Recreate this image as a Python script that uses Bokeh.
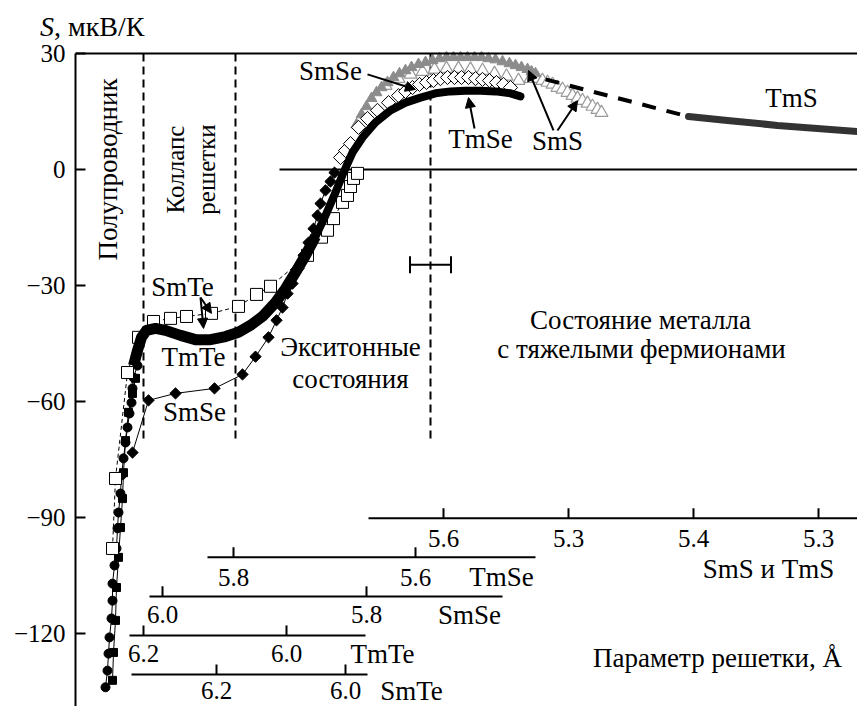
import math
from bokeh.plotting import figure
from bokeh.layouts import column
from bokeh.models import Range1d, FixedTicker, Arrow, NormalHead, Span, Div
from bokeh.core.properties import value
from bokeh.embed import file_html
from bokeh.resources import INLINE

FONT = "Liberation Serif"
FS_TICK = "25px"
FS_LAB = "27px"

# ---------------- data ----------------
# x: position along the common (scaled) lattice-parameter panel, S in мкВ/К
# steep semiconducting branch: filled circles (TmTe) and filled squares (TmSe)
tmte_pts_x = [30, 32, 33, 34, 36, 37, 37, 39, 41, 42, 43, 45, 46, 48, 50, 52, 54, 56, 57, 58, 62]
tmte_pts_s = [-133.9, -129.6, -125.2, -121.0, -116.1, -111.5, -107.1, -102.4, -98.0, -92.8, -88.7,
              -83.8, -79.1, -74.7, -70.6, -66.7, -63.1, -60.3, -56.6, -53.8, -50.7]
tmse_pts_x = [37, 38, 40, 41, 43, 45, 47, 48, 50, 53, 57, 60]
tmse_pts_s = [-132.1, -124.9, -116.6, -108.1, -100.3, -92.6, -85.1, -78.4, -70.1, -62.8, -57.9, -54.0]

# SmTe open squares
smte_x = [37, 40, 52, 63, 78, 95, 111, 136, 163, 181, 195, 232, 246, 252, 258, 267, 272, 275, 278, 282]
smte_s = [-98.0, -79.9, -52.5, -43.4, -39.3, -38.5, -38.0, -37.2, -35.4, -32.3, -30.2, -22.2, -17.5,
          -15.7, -12.7, -8.5, -6.7, -4.4, -2.3, -1.0]

# SmSe filled diamonds (below zero)
smse_lo_x = [57, 73, 100, 139, 167, 180, 193, 201, 207, 212, 217, 223, 228, 233, 238, 242, 245, 250, 255, 259]
smse_lo_s = [-73.2, -59.7, -57.9, -56.6, -53.0, -48.4, -43.4, -39.0, -35.7, -32.1, -29.5, -25.6, -22.2,
             -18.9, -15.3, -11.9, -8.8, -5.4, -3.1, -0.8]

# SmSe open diamonds (above zero)
smse_hi_x = [265, 270, 275, 283, 292, 302, 313, 323, 330, 337, 344, 351, 358, 365, 372, 379, 386,
             393, 400, 407, 414, 421, 428, 435]
smse_hi_s = [3.1, 4.9, 6.7, 10.9, 13.2, 15.3, 17.3, 19.1, 20.2, 21.2, 22.0, 22.5, 23.0, 23.5, 23.8,
             23.8, 23.8, 23.8, 23.5, 23.3, 23.0, 22.5, 22.0, 21.2]

# TmTe dense curve (thick band)
tmte_x = [58, 62, 66, 71, 80, 90, 105, 120, 135, 150, 163, 175, 187, 200, 210, 220, 230, 240]
tmte_s = [-50.7, -46.8, -43.4, -41.6, -41.1, -41.6, -42.9, -44.0, -44.0, -43.2, -42.1, -40.3, -38.0,
          -34.4, -30.8, -26.6, -22.2, -17.3]

# TmSe dense curve
tmse_x = [187, 200, 210, 220, 230, 240, 250, 260, 268, 277, 287, 300, 315, 330, 345, 360, 375, 390,
          405, 420, 435, 445]
tmse_s = [-38.0, -34.4, -30.8, -26.6, -22.2, -17.3, -11.9, -5.9, -0.8, 4.4, 8.3, 12.2, 15.3, 17.3,
          18.6, 19.7, 20.2, 20.4, 20.4, 20.2, 19.7, 18.9]

# SmS filled grey triangles
sms_f_x = [281, 286, 291, 296, 301, 306, 312, 318, 324, 330, 336, 343, 350, 357, 364, 371, 378, 385,
           392, 399, 406, 413, 420, 427, 434, 440, 446, 452, 456, 460]
sms_f_s = [11.6, 14.2, 16.3, 18.4, 19.9, 21.2, 22.5, 23.8, 24.8, 25.6, 26.4, 27.2, 27.7, 28.2, 28.7,
           29.0, 29.0, 29.0, 29.0, 29.0, 29.0, 28.7, 28.4, 27.9, 27.4, 26.9, 26.4, 25.9, 25.3, 24.8]

# SmS open grey triangles
sms_o_x = [310, 323, 335, 347, 359, 371, 383, 395, 407, 419, 431, 443, 455, 462, 467, 472, 477, 482,
           487, 492, 497, 502, 507, 512, 517, 522, 526]
sms_o_s = [21.7, 23.5, 24.6, 25.3, 25.9, 26.1, 26.1, 25.9, 25.6, 24.8, 24.1, 23.0, 23.5, 23.5, 23.0,
           22.5, 22.0, 21.2, 20.7, 19.9, 19.1, 18.4, 17.8, 17.1, 16.3, 15.5, 14.7]

# TmS: extrapolation (dashed) and measured (solid)
tms_dash_x = [470, 613]
tms_dash_s = [23.3, 13.7]
tms_x = [613, 652, 702, 782]
tms_s = [13.7, 12.7, 11.4, 9.8]

# region boundaries and error bar
bound_x = [68, 160, 355]
bound_bottom = -70.1
err_center, err_half, err_s = 355, 20.5, -24.6

# lattice-parameter scales
scale_names = ["SmS и TmS", "TmSe", "SmSe", "TmTe", "SmTe"]
scale_ticks = [["5.6", "5.3", "5.4", "5.3"], ["5.8", "5.6"], ["6.0", "5.8"], ["6.2", "6.0"], ["6.2", "6.0"]]
scale_tick_x = [[368, 493, 618, 743], [158, 340], [87, 291], [68, 211], [141, 270]]
scale_span = [(293, 782), (132, 460), (74, 427), (54, 290), (56, 292)]
scale_level = [-90.2, -100.3, -110.4, -120.5, -130.6]
scale_label_y = [-95.4, -105.5, -115.1, -125.2, -134.8]
scale_name_pos = [(693, -103.2), (426, -105.5), (394, -115.1), (307, -125.2), (336, -134.8)]

yticks = [30, 0, -30, -60, -90, -120]

# ---------------- main figure ----------------
p = figure(width=857, height=666, x_range=Range1d(0, 782), y_range=Range1d(-138.87, 30.52),
           output_backend="svg", toolbar_location=None, x_axis_location=None,
           min_border_left=75, min_border_right=0, min_border_top=11, min_border_bottom=0)
p.grid.visible = False
p.outline_line_color = None
p.background_fill_color = "white"
p.border_fill_color = "white"

ya = p.yaxis[0]
ya.ticker = FixedTicker(ticks=yticks)
ya.bounds = (-140, 30)
ya.major_label_overrides = {t: (str(t) if t >= 0 else "\u2212" + str(-t)) for t in yticks}
ya.major_tick_in = 10
ya.major_tick_out = 0
ya.minor_tick_line_color = None
ya.axis_line_width = 2
ya.major_tick_line_width = 2
ya.major_label_standoff = 10
ya.major_label_text_font = FONT
ya.major_label_text_font_size = FS_TICK
ya.major_label_text_color = "black"

p.add_layout(Span(location=30, dimension="width", line_color="black", line_width=2))

# boundaries
for bx in bound_x:
    p.line([bx, bx], [30, bound_bottom], line_color="black", line_width=2, line_dash="8 5")
p.line([204, 782], [0, 0], line_color="black", line_width=2)

# error bar
p.line([err_center - err_half, err_center + err_half], [err_s, err_s], line_color="black", line_width=2)
for ex in (err_center - err_half, err_center + err_half):
    p.line([ex, ex], [err_s - 2.2, err_s + 2.2], line_color="black", line_width=2)

# steep branch
p.line(tmte_pts_x, tmte_pts_s, line_color="black", line_width=1)
p.scatter(tmte_pts_x, tmte_pts_s, marker="circle", size=9, color="black")
p.line(tmse_pts_x, tmse_pts_s, line_color="black", line_width=1)
p.scatter(tmse_pts_x, tmse_pts_s, marker="square", size=8, color="black")

# SmS triangles
p.scatter(sms_o_x, sms_o_s, marker="triangle", size=13, fill_color="white", line_color="#9a9a9a", line_width=1.2)
p.scatter(sms_f_x, sms_f_s, marker="triangle", size=11, fill_color="#8c8c8c", line_color="#8c8c8c")

# TmS
p.line(tms_dash_x, tms_dash_s, line_color="black", line_width=4, line_dash="14 11")
p.line(tms_x, tms_s, line_color="#333333", line_width=7, line_cap="round")

# SmSe diamonds
p.line(smse_lo_x, smse_lo_s, line_color="black", line_width=1)
p.scatter(smse_lo_x, smse_lo_s, marker="square", angle=math.pi / 4, size=8, color="black")
p.scatter(smse_hi_x, smse_hi_s, marker="square", angle=math.pi / 4, size=10,
          fill_color="white", line_color="black", line_width=1)

# SmTe squares
p.line(smte_x, smte_s, line_color="black", line_width=1, line_dash="4 3")
p.scatter(smte_x, smte_s, marker="square", size=12, fill_color="white", line_color="black", line_width=1)

# dense curves
p.line(tmte_x, tmte_s, line_color="black", line_width=11, line_join="round")
p.line(tmse_x, tmse_s, line_color="black", line_width=8, line_join="round", line_cap="round")

# scales
for i in range(len(scale_names)):
    lv = scale_level[i]
    x0, x1 = scale_span[i]
    p.line([x0, x1], [lv, lv], line_color="black", line_width=2)
    for tx, tl in zip(scale_tick_x[i], scale_ticks[i]):
        p.line([tx, tx], [lv, lv + 2.6], line_color="black", line_width=2)
        p.text([tx], [scale_label_y[i]], text=[tl], text_font=value(FONT), text_font_size=FS_TICK,
               text_align="center", text_baseline="middle", text_color="black")
    nx, ny = scale_name_pos[i]
    p.text([nx], [ny], text=[scale_names[i]], text_font=value(FONT), text_font_size=FS_LAB,
           text_align="center", text_baseline="middle", text_color="black")


def txt(x, y, s, angle=0.0, size=FS_LAB):
    p.text([x], [y], text=[s], angle=angle, text_font=value(FONT), text_font_size=size,
           text_align="center", text_baseline="middle", text_color="black")


txt(32, 0, "Полупроводник", math.pi / 2, "27px")
txt(100, 0, "Коллапс", math.pi / 2, "25px")
txt(131, 0, "решетки", math.pi / 2, "25px")
txt(255, 25.6, "SmSe")
txt(405, 7.8, "TmSe")
txt(482, 7.5, "SmS")
txt(716, 18.6, "TmS")
txt(107, -30.5, "SmTe")
txt(118, -48.6, "TmTe")
txt(119, -62.8, "SmSe")
txt(275, -45.8, "Экситонные")
txt(275, -54.3, "состояния")
txt(565, -38.8, "Состояние металла")
txt(566, -46.3, "с тяжелыми фермионами")
txt(642, -126.4, "Параметр решетки, Å")

# arrows
arrows = [((292, 24.6), (340, 20.7)), ((399, 10.6), (393, 18.6)),
          ((478, 10.1), (453, 25.6)), ((482, 10.1), (502, 17.8)),
          ((125, -33.1), (136, -37.2)), ((125, -33.1), (128, -41.1))]
for (xs, ys), (xe, ye) in arrows:
    p.add_layout(Arrow(end=NormalHead(size=10, fill_color="black", line_color="black"),
                       x_start=xs, y_start=ys, x_end=xe, y_end=ye,
                       line_color="black", line_width=2))

# ---------------- header with the y-axis title ----------------
title_html = ('<div style="position:absolute;left:40px;top:13px;font-family:\'Liberation Serif\';'
              'font-size:28px;line-height:27px;color:black;white-space:nowrap">'
              '<i>S</i>, мкВ/К</div>')
head = Div(text=title_html, width=857, height=40, margin=0,
           styles={"position": "relative", "overflow": "visible"})

layout = column(head, p, spacing=0)
open("out.html", "w").write(file_html(layout, INLINE))
